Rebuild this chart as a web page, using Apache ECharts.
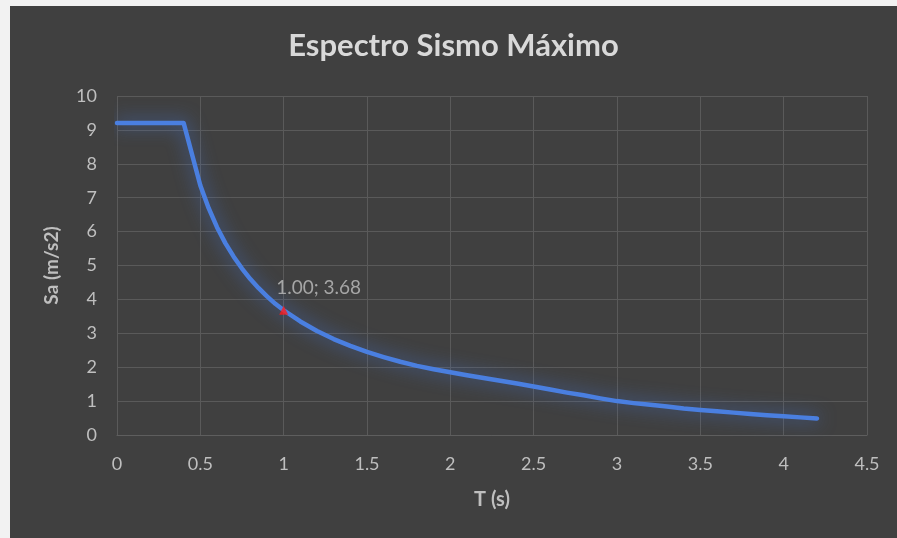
<!DOCTYPE html>
<html>
<head>
<meta charset="utf-8">
<script src="https://cdn.jsdelivr.net/npm/echarts@6/dist/echarts.min.js"></script>
<style>
  html, body { margin: 0; padding: 0; background: #f2f2f2; width: 897px; height: 538px; overflow: hidden; }
  #chart { position: absolute; left: 10px; top: 6px; width: 887px; height: 532px; }
</style>
</head>
<body>
<div id="chart"></div>
<script>
// Period T (s) and spectral acceleration Sa (m/s2)
const periods = [0, 0.1, 0.2, 0.3, 0.4, 0.5, 0.55, 0.6, 0.65, 0.7, 0.75, 0.8, 0.85, 0.9, 0.95, 1.0,
  1.1, 1.2, 1.3, 1.4, 1.5, 1.6, 1.7, 1.8, 1.9, 2.0,
  2.1, 2.2, 2.3, 2.4, 2.5, 2.6, 2.7, 2.8, 2.9, 3.0,
  3.1, 3.2, 3.3, 3.4, 3.5, 3.6, 3.7, 3.8, 3.9, 4.0, 4.1, 4.2];
const accel = [9.2, 9.2, 9.2, 9.2, 9.2, 7.36, 6.69, 6.13, 5.66, 5.26, 4.91, 4.6, 4.33, 4.09, 3.87, 3.68,
  3.35, 3.07, 2.83, 2.63, 2.45, 2.3, 2.16, 2.04, 1.94, 1.85,
  1.76, 1.68, 1.6, 1.52, 1.43, 1.34, 1.25, 1.17, 1.08, 1.0,
  0.94, 0.89, 0.84, 0.78, 0.74, 0.7, 0.66, 0.62, 0.58, 0.55, 0.52, 0.49];
// Highlighted point
const markedT = 1.0;
const markedSa = 3.68;

const spectrum = periods.map((t, i) => [t, accel[i]]);
const font = 'Lato, "Noto Sans", sans-serif';

const chart = echarts.init(document.getElementById('chart'));
chart.setOption({
  backgroundColor: '#404040',
  animation: false,
  title: {
    text: 'Espectro Sismo Máximo',
    left: 'center',
    top: 19,
    textStyle: { color: '#d9d9d9', fontSize: 31, fontWeight: 'bold', fontFamily: font }
  },
  grid: { left: 107, right: 30, top: 90, bottom: 103 },
  xAxis: {
    type: 'value', min: 0, max: 4.5, interval: 0.5,
    name: 'T (s)', nameLocation: 'middle', nameGap: 55,
    nameTextStyle: { color: '#bfbfbf', fontSize: 20, fontWeight: 'bold', fontFamily: font },
    axisLine: { show: true, lineStyle: { color: '#5e5e5e', width: 1 } },
    axisTick: { show: false },
    axisLabel: { color: '#bfbfbf', fontSize: 18, margin: 20, fontFamily: font },
    splitLine: { show: true, lineStyle: { color: '#5a5a5a', width: 1 } }
  },
  yAxis: {
    type: 'value', min: 0, max: 10, interval: 1,
    name: 'Sa (m/s2)', nameLocation: 'middle', nameGap: 56, nameRotate: 90,
    nameTextStyle: { color: '#bfbfbf', fontSize: 19, fontWeight: 'bold', fontFamily: font },
    axisLine: { show: false },
    axisTick: { show: false },
    axisLabel: { color: '#bfbfbf', fontSize: 18, margin: 20, fontFamily: font },
    splitLine: { show: true, lineStyle: { color: '#5a5a5a', width: 1 } }
  },
  series: [
    {
      type: 'line',
      data: spectrum,
      smooth: false,
      showSymbol: false,
      lineStyle: {
        color: '#4a7fe0', width: 4.5, join: 'round', cap: 'round',
        shadowColor: 'rgba(70,120,220,0.8)', shadowBlur: 18
      },
      z: 2
    },
    {
      type: 'scatter',
      data: [[markedT, markedSa]],
      symbol: 'triangle',
      symbolSize: 9,
      itemStyle: { color: '#ff1a1a' },
      label: {
        show: true,
        formatter: p => p.value[0].toFixed(2) + '; ' + p.value[1].toFixed(2),
        position: [-3, -18],
        align: 'left',
        verticalAlign: 'middle',
        color: '#bfbfbf',
        fontSize: 19,
        fontFamily: font
      },
      z: 3
    }
  ]
});
</script>
</body>
</html>
